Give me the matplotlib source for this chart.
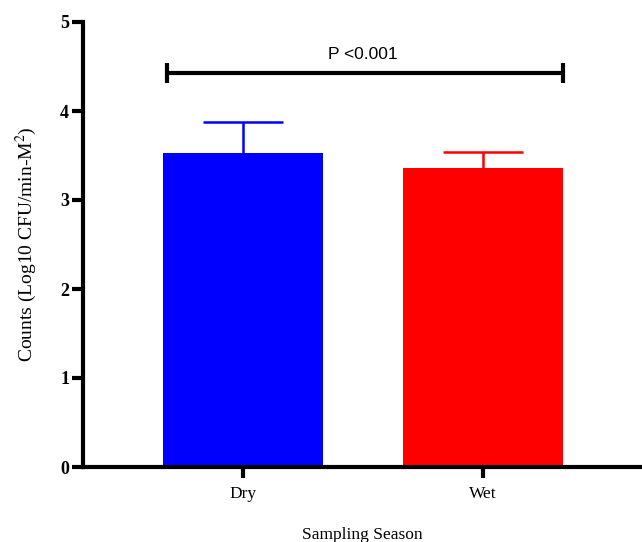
import matplotlib.pyplot as plt
import numpy as np

plt.rcParams['mathtext.fontset'] = 'stix'

seasons = ['Dry', 'Wet']
means = [3.53, 3.36]
sd_up = [0.35, 0.18]
bar_colors = ['#0000ff', '#ff0000']
p_text = 'P <0.001'
bracket_y = 4.43

fig = plt.figure(figsize=(6.42, 5.42), dpi=100)
ax = fig.add_axes([83 / 642, 1 - 467 / 542, 1 - 83 / 642, (467 - 22) / 542])

x = np.arange(len(seasons))
ax.bar(x, means, width=0.667, color=bar_colors, zorder=2)
# upper error bars only
cap = 0.167
for xi, m, e, c in zip(x, means, sd_up, bar_colors):
    ax.vlines(xi, m, m + e, color=c, lw=1.8, zorder=1)
    ax.hlines(m + e, xi - cap, xi + cap, color=c, lw=1.8, zorder=1)

# significance bracket
xl, xr = 0 - 0.317, 1 + 0.333
ax.plot([xl, xr], [bracket_y, bracket_y], color='black', lw=3,
        solid_capstyle='butt', clip_on=False)
for xe in (xl, xr):
    ax.plot([xe, xe], [bracket_y - 0.11, bracket_y + 0.11], color='black', lw=3,
            solid_capstyle='butt', clip_on=False)
ax.text(0.5, bracket_y + 0.12, p_text, ha='center', va='bottom',
        fontsize=12.5, family='Liberation Sans')

ax.set_xlim(-0.667, 1.6625)
ax.set_ylim(0, 5)
ax.set_yticks(range(0, 6))
ax.set_xticks(x)
ax.set_xticklabels(seasons, family='Liberation Serif', fontsize=12.5)
ax.set_yticklabels([str(v) for v in range(6)], family='Liberation Serif',
                   fontsize=13, fontweight='bold')

for s in ('top', 'right'):
    ax.spines[s].set_visible(False)
for s in ('left', 'bottom'):
    ax.spines[s].set_linewidth(3)
ax.tick_params(axis='y', length=8, width=3, pad=2)
ax.tick_params(axis='x', length=8, width=3, pad=6)

ax.set_xlabel('Sampling Season', family='Liberation Serif', fontsize=12.5,
              labelpad=18)
ax.set_ylabel('Counts (Log10 CFU/min-M$^2$)', family='Liberation Serif',
              fontsize=14, labelpad=15)

fig.savefig('out.png', dpi=100)
